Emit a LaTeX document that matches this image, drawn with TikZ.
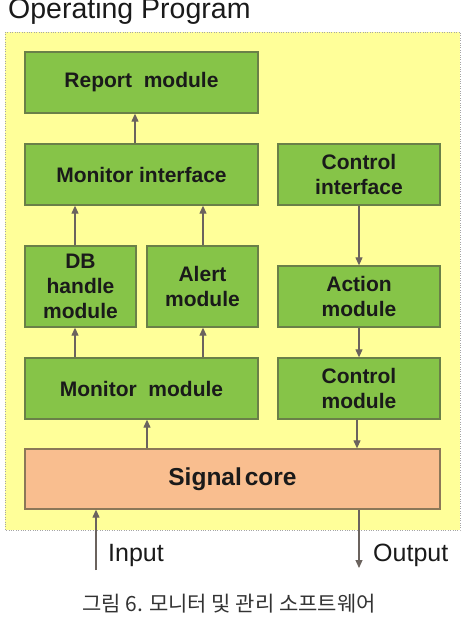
\documentclass[tikz,border=0pt]{standalone}
\usepackage{fontspec}
\setmainfont{Liberation Sans}
\newfontfamily\kofont{Noto Sans CJK KR}
\usetikzlibrary{arrows.meta,calc}
\definecolor{frameyellow}{HTML}{FFFF99}
\definecolor{boxgreen}{HTML}{86C448}
\definecolor{boxgreenedge}{HTML}{6A8048}
\definecolor{coreorange}{HTML}{F9BE8F}
\definecolor{coreedge}{HTML}{8C7858}
\definecolor{arrowgrey}{HTML}{6B635E}
\definecolor{txt}{HTML}{1A1A1A}
\begin{document}
\begin{tikzpicture}[x=1pt,y=-1pt,
  gbox/.style={draw=boxgreenedge,line width=1.3pt,fill=boxgreen,inner sep=0pt,align=center,
    font=\bfseries\fontsize{21}{25}\selectfont,text=txt},
  cbox/.style={draw=coreedge,line width=1.3pt,fill=coreorange,inner sep=0pt,align=center,
    font=\bfseries\fontsize{24.5}{28}\selectfont,text=txt},
  arr/.style={draw=arrowgrey,line width=1.1pt,-{Triangle[length=8pt,width=7pt]}},
  lbl/.style={font=\fontsize{25}{28}\selectfont,text=txt,inner sep=0pt}]
\useasboundingbox (0,0) rectangle (463,619);
\fill[white] (0,0) rectangle (463,619);
\node[anchor=base west,inner sep=0pt,font=\fontsize{28.5}{31}\selectfont,text=txt] (title) at (8,18) {Operating Program};
\draw[gray!70,dotted,fill=frameyellow] (5,32) rectangle (460,530);
\node[gbox,minimum width=233pt,minimum height=61pt] (report) at (141.5,82.5) {Report\ \ module};
\node[gbox,minimum width=233pt,minimum height=61pt] (monint) at (141.5,174.5) {Monitor interface};
\node[gbox,minimum width=162pt,minimum height=61pt] (ctrlint) at (359,174.5) {Control\\interface};
\node[gbox,minimum width=111pt,minimum height=81pt] (db) at (80.5,286.5) {DB\\handle\\module};
\node[gbox,minimum width=111pt,minimum height=81pt] (alert) at (202.5,286.5) {Alert\\module};
\node[gbox,minimum width=162pt,minimum height=61pt] (action) at (359,296.5) {Action\\module};
\node[gbox,minimum width=233pt,minimum height=61pt] (monmod) at (141.5,388.5) {Monitor\ \ module};
\node[gbox,minimum width=162pt,minimum height=61pt] (ctrlmod) at (359,388.5) {Control\\module};
\node[cbox,minimum width=415pt,minimum height=60pt] (signal) at (232.5,479) {Signal\hspace{0.12em}core};
\coordinate (xa) at (135,0);
\coordinate (xb) at (75,0);
\coordinate (xc) at (203,0);
\coordinate (xd) at (147,0);
\coordinate (xe) at (359,0);
\coordinate (xf) at (357,0);
\coordinate (xin) at (96,0);
\coordinate (inend) at (96,570);
\coordinate (outend) at (359,568);
\draw[arr] (monint.north -| xa) -- (report.south -| xa);
\draw[arr] (db.north -| xb) -- (monint.south -| xb);
\draw[arr] (alert.north -| xc) -- (monint.south -| xc);
\draw[arr] (monmod.north -| xb) -- (db.south -| xb);
\draw[arr] (monmod.north -| xc) -- (alert.south -| xc);
\draw[arr] (signal.north -| xd) -- (monmod.south -| xd);
\draw[arr] (ctrlint.south -| xe) -- (action.north -| xe);
\draw[arr] (action.south -| xe) -- (ctrlmod.north -| xe);
\draw[arr] (ctrlmod.south -| xf) -- (signal.north -| xf);
\draw[arr] (inend) -- (signal.south -| xin);
\draw[arr] (signal.south -| outend) -- (outend);
\node[lbl,anchor=base west] (inlbl) at (108,561) {Input};
\node[lbl,anchor=base west] (outlbl) at (373,561) {Output};
\node[inner sep=0pt,font=\kofont\fontsize{21}{24}\selectfont,text=black!80] (caption) at (229,604) {그림 6. 모니터 및 관리 소프트웨어};
\end{tikzpicture}
\end{document}
